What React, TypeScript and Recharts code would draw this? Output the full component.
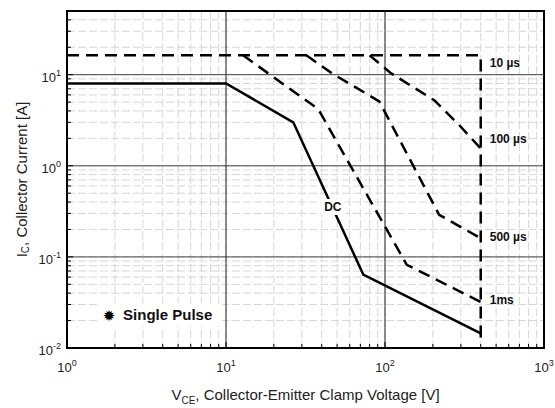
import { LineChart, Line, XAxis, YAxis, CartesianGrid, ReferenceLine, ReferenceArea, ReferenceDot } from 'recharts';

// SOA curves, V = collector-emitter voltage [V], I = collector current [A]
const dcCurve = [
  { v: 1, i: 8 },
  { v: 10, i: 8 },
  { v: 26.5, i: 3 },
  { v: 73, i: 0.064 },
  { v: 400, i: 0.0145 },
];
const us10Curve = [
  { v: 1, i: 16.3 },
  { v: 400, i: 16.3 },
  { v: 400, i: 0.011 },
];
const us100Curve = [
  { v: 80, i: 16.3 },
  { v: 108, i: 10.5 },
  { v: 205, i: 5.2 },
  { v: 290, i: 2.85 },
  { v: 400, i: 1.55 },
];
const us500Curve = [
  { v: 32, i: 16.3 },
  { v: 47, i: 10.2 },
  { v: 92, i: 5.1 },
  { v: 219, i: 0.29 },
  { v: 400, i: 0.16 },
];
const ms1Curve = [
  { v: 12.8, i: 16.3 },
  { v: 38, i: 4.2 },
  { v: 137, i: 0.082 },
  { v: 400, i: 0.032 },
];

const xTicks = [1, 2, 3, 4, 5, 6, 7, 8, 9, 10, 20, 30, 40, 50, 60, 70, 80, 90, 100, 200, 300, 400, 500, 600, 700, 800, 900, 1000];
const yTicks = [0.01, 0.02, 0.03, 0.04, 0.05, 0.06, 0.07, 0.08, 0.09, 0.1, 0.2, 0.3, 0.4, 0.5, 0.6, 0.7, 0.8, 0.9, 1, 2, 3, 4, 5, 6, 7, 8, 9, 10, 20, 30, 40, 50];
const xDecades = [10, 100];
const yDecades = [0.1, 1, 10];

const FONT = "Arial, 'Liberation Sans', sans-serif";
const DASH = '12 7';

const decadeExp = (v: number) => {
  const e = Math.round(Math.log10(v));
  return Math.abs(Math.log10(v) - e) < 1e-6 ? e : null;
};

const XTick = (props: any) => {
  const { x, y, payload } = props;
  const exp = decadeExp(payload.value);
  return (
    <g>
      <line x1={x} x2={x} y1={y} y2={y - (exp !== null ? 6 : 4)} stroke="#000" strokeWidth={1} />
      {exp !== null && (
        <text x={x} y={y + 24} textAnchor="middle" fontSize={13} fontFamily={FONT} fill="#222">
          10<tspan dy={-6} fontSize={9}>{exp}</tspan>
        </text>
      )}
    </g>
  );
};

const YTick = (props: any) => {
  const { x, y, payload } = props;
  const exp = decadeExp(payload.value);
  return (
    <g>
      <line x1={x} x2={x + (exp !== null ? 6 : 4)} y1={y} y2={y} stroke="#000" strokeWidth={1} />
      {exp !== null && (
        <text x={x - 6} y={y + 7} textAnchor="end" fontSize={13} fontFamily={FONT} fill="#222">
          10<tspan dy={-6} fontSize={9}>{exp}</tspan>
        </text>
      )}
    </g>
  );
};

const CurveTag = (text: string) => (p: any) => {
  const { x, y } = p.viewBox;
  return (
    <text x={x + 9} y={y} dominantBaseline="central" fontSize={12} fontWeight="bold" fontFamily={FONT} fill="#111">
      {text}
    </text>
  );
};

const DcTag = (p: any) => {
  const { x, y } = p.viewBox;
  return (
    <g>
      <rect x={x - 12} y={y - 8} width={24} height={16} fill="#fff" />
      <text x={x} y={y} textAnchor="middle" dominantBaseline="central" fontSize={12} fontWeight="bold" fontFamily={FONT} fill="#111">
        DC
      </text>
    </g>
  );
};

const PulseTag = (p: any) => {
  const { x, y } = p.viewBox;
  return (
    <g>
      <rect x={x - 11} y={y - 11} width={124} height={22} fill="#fff" />
      <text x={x} y={y + 1} textAnchor="middle" dominantBaseline="central" fontSize={15} fontFamily="'DejaVu Sans', sans-serif" fill="#000">
        ✹
      </text>
      <text x={x + 14} y={y} dominantBaseline="central" fontSize={15} fontWeight="bold" fontFamily={FONT} fill="#111">
        Single Pulse
      </text>
    </g>
  );
};

const XTitle = (p: any) => {
  const vb = p.viewBox;
  return (
    <text x={vb.x + vb.width / 2} y={vb.y + 52} textAnchor="middle" fontSize={15} fontFamily={FONT} fill="#222">
      V<tspan fontSize={10} dy={4}>CE</tspan>
      <tspan dy={-4}>, Collector-Emitter Clamp Voltage [V]</tspan>
    </text>
  );
};

const YTitle = (p: any) => {
  const vb = p.viewBox;
  const cx = 21;
  const cy = vb.y + vb.height / 2;
  return (
    <text x={cx} y={cy} transform={`rotate(-90, ${cx}, ${cy})`} textAnchor="middle" dominantBaseline="central" fontSize={15} fontFamily={FONT} fill="#222">
      I<tspan fontSize={10} dy={4}>C</tspan>
      <tspan dy={-4}>, Collector Current [A]</tspan>
    </text>
  );
};

export default function App() {
  return (
    <div style={{ position: 'absolute', left: 0, top: 0, width: 555, height: 408, background: '#fff' }}>
      <LineChart width={555} height={408} margin={{ top: 11, right: 11, bottom: 0, left: 0 }}>
        <CartesianGrid stroke="#d6d6d6" strokeDasharray="8 3" />
        <XAxis
          type="number"
          dataKey="v"
          scale="log"
          domain={[1, 1000]}
          ticks={xTicks}
          interval={0}
          allowDataOverflow
          height={60}
          axisLine={false}
          tickLine={false}
          tickSize={0}
          tickMargin={0}
          tick={<XTick />}
          label={XTitle}
        />
        <YAxis
          type="number"
          dataKey="i"
          scale="log"
          domain={[0.01, 50]}
          ticks={yTicks}
          interval={0}
          allowDataOverflow
          width={67}
          axisLine={false}
          tickLine={false}
          tickSize={0}
          tickMargin={0}
          tick={<YTick />}
          label={YTitle}
        />
        {xDecades.map((d) => (
          <ReferenceLine key={`x${d}`} x={d} stroke="#222" strokeWidth={1} />
        ))}
        {yDecades.map((d) => (
          <ReferenceLine key={`y${d}`} y={d} stroke="#444" strokeWidth={1} />
        ))}
        <Line data={us10Curve} dataKey="i" stroke="#000" strokeWidth={2.5} strokeDasharray={DASH} dot={false} activeDot={false} isAnimationActive={false} />
        <Line data={us100Curve} dataKey="i" stroke="#000" strokeWidth={2.5} strokeDasharray={DASH} dot={false} activeDot={false} isAnimationActive={false} />
        <Line data={us500Curve} dataKey="i" stroke="#000" strokeWidth={2.5} strokeDasharray={DASH} dot={false} activeDot={false} isAnimationActive={false} />
        <Line data={ms1Curve} dataKey="i" stroke="#000" strokeWidth={2.5} strokeDasharray={DASH} dot={false} activeDot={false} isAnimationActive={false} />
        <Line data={dcCurve} dataKey="i" stroke="#000" strokeWidth={2.5} dot={false} activeDot={false} isAnimationActive={false} />
        <ReferenceDot x={400} y={13.4} r={0} fill="none" stroke="none" label={CurveTag('10 µs')} />
        <ReferenceDot x={400} y={1.97} r={0} fill="none" stroke="none" label={CurveTag('100 µs')} />
        <ReferenceDot x={400} y={0.165} r={0} fill="none" stroke="none" label={CurveTag('500 µs')} />
        <ReferenceDot x={400} y={0.0335} r={0} fill="none" stroke="none" label={CurveTag('1ms')} />
        <ReferenceDot x={47} y={0.353} r={0} fill="none" stroke="none" label={DcTag} />
        <ReferenceDot x={1.84} y={0.0231} r={0} fill="none" stroke="none" label={PulseTag} />
        <ReferenceArea x1={1} x2={1000} y1={0.01} y2={50} fill="none" stroke="#000" strokeWidth={2} />
      </LineChart>
    </div>
  );
}
